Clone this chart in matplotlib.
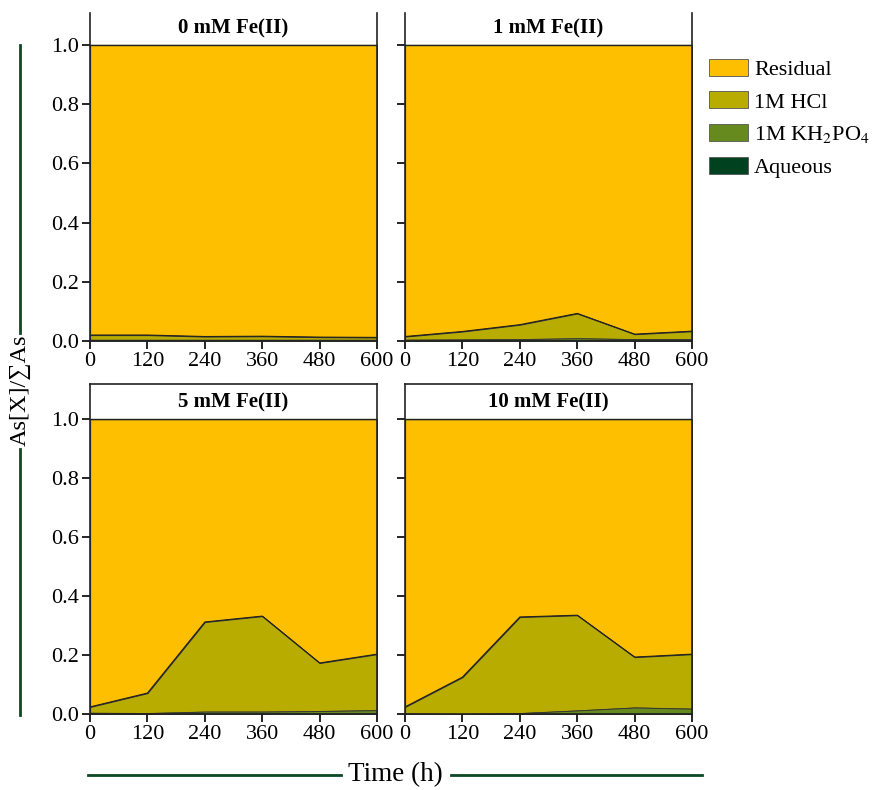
import numpy as np
import matplotlib.pyplot as plt
from matplotlib.lines import Line2D
from matplotlib.patches import Patch

plt.rcParams['font.family'] = ['Liberation Serif', 'DejaVu Serif']
plt.rcParams['mathtext.fontset'] = 'stix'

time = [0, 120, 240, 360, 480, 600]
panels = ['0 mM Fe(II)', '1 mM Fe(II)', '5 mM Fe(II)', '10 mM Fe(II)']

# fractions for each pool (stacked: aqueous, KH2PO4, HCl, residual = rest)
aqueous = [
    [0.002, 0.002, 0.002, 0.002, 0.002, 0.002],
    [0.002, 0.002, 0.002, 0.003, 0.002, 0.002],
    [0.002, 0.001, 0.002, 0.002, 0.002, 0.002],
    [0.001, 0.000, 0.001, 0.001, 0.001, 0.001],
]
kh2po4 = [
    [0.002, 0.002, 0.002, 0.002, 0.002, 0.002],
    [0.002, 0.003, 0.004, 0.006, 0.004, 0.004],
    [0.002, 0.002, 0.006, 0.006, 0.008, 0.011],
    [0.000, 0.000, 0.002, 0.011, 0.021, 0.017],
]
hcl = [
    [0.016, 0.016, 0.011, 0.012, 0.009, 0.008],
    [0.011, 0.027, 0.049, 0.084, 0.017, 0.027],
    [0.020, 0.068, 0.304, 0.324, 0.163, 0.190],
    [0.023, 0.125, 0.326, 0.323, 0.171, 0.185],
]

c_res = '#FDBF00'
c_hcl = '#B8AC00'
c_kh = '#678A1E'
c_aq = '#00421F'

fig = plt.figure(figsize=(8.75, 7.9), dpi=100)
w = 0.328
positions = [
    [0.1029, 0.5684, w, 0.4152],
    [0.4629, 0.5684, w, 0.4152],
    [0.1029, 0.0962, w, 0.4177],
    [0.4629, 0.0962, w, 0.4177],
]
ymax = [1.108, 1.108, 1.119, 1.119]

for i, name in enumerate(panels):
    ax = fig.add_axes(positions[i])
    t = np.array(time, dtype=float)
    a = np.array(aqueous[i])
    k = a + np.array(kh2po4[i])
    h = k + np.array(hcl[i])
    ax.fill_between(t, 1.0, h, color=c_res, edgecolor='#333333', lw=0.8)
    ax.fill_between(t, h, k, color=c_hcl, edgecolor='#333333', lw=0.8)
    ax.fill_between(t, k, a, color=c_kh, edgecolor='#333333', lw=0.6)
    ax.fill_between(t, a, 0, color=c_aq, edgecolor='#333333', lw=0.4)
    ax.plot(t, h, color='#222222', lw=0.8)
    ax.axhline(1.0, color='#222222', lw=1.0)
    ax.set_xlim(0, 600)
    ax.set_ylim(0, ymax[i])
    ax.set_xticks(time)
    ax.set_yticks([0, 0.2, 0.4, 0.6, 0.8, 1.0])
    ax.tick_params(direction='out', length=6, width=1.2, labelsize=16,
                   pad=2)
    if i % 2 == 0:
        ax.set_yticklabels(['0.0', '0.2', '0.4', '0.6', '0.8', '1.0'])
    else:
        ax.set_yticklabels([])
    for s in ax.spines.values():
        s.set_linewidth(1.2)
        s.set_color('#222222')
    if i < 2:
        ax.spines['top'].set_visible(False)
    ax.text(300, 1.055, name, ha='center', va='center', fontsize=15,
            fontweight='bold')

handles = [
    Patch(facecolor=c_res, edgecolor='#555555', lw=0.6, label='Residual'),
    Patch(facecolor=c_hcl, edgecolor='#555555', lw=0.6, label='1M HCl'),
    Patch(facecolor=c_kh, edgecolor='#555555', lw=0.6,
          label='1M KH$_2$PO$_4$'),
    Patch(facecolor=c_aq, edgecolor='#555555', lw=0.6, label='Aqueous'),
]
fig.legend(handles=handles, loc='upper left', bbox_to_anchor=(0.800, 0.937),
           frameon=False, fontsize=16, handlelength=1.75, handleheight=0.8,
           handletextpad=0.28, labelspacing=0.52, borderaxespad=0)

# axis labels with flanking lines
fig.text(0.023, 0.506, 'As[X]/\u2211As', rotation=90, ha='center',
         va='center', fontsize=17.5)
fig.add_artist(Line2D([0.023, 0.023], [0.578, 0.943], color='#0B4A25',
                      lw=2, transform=fig.transFigure))
fig.add_artist(Line2D([0.023, 0.023], [0.095, 0.432], color='#0B4A25',
                      lw=2, transform=fig.transFigure))
fig.text(0.452, 0.019, 'Time (h)', ha='center', va='center', fontsize=19.5)
fig.add_artist(Line2D([0.1, 0.390], [0.019, 0.019], color='#0B4A25',
                      lw=2, transform=fig.transFigure))
fig.add_artist(Line2D([0.515, 0.802], [0.019, 0.019], color='#0B4A25',
                      lw=2, transform=fig.transFigure))

plt.savefig('out.png', dpi=100)
